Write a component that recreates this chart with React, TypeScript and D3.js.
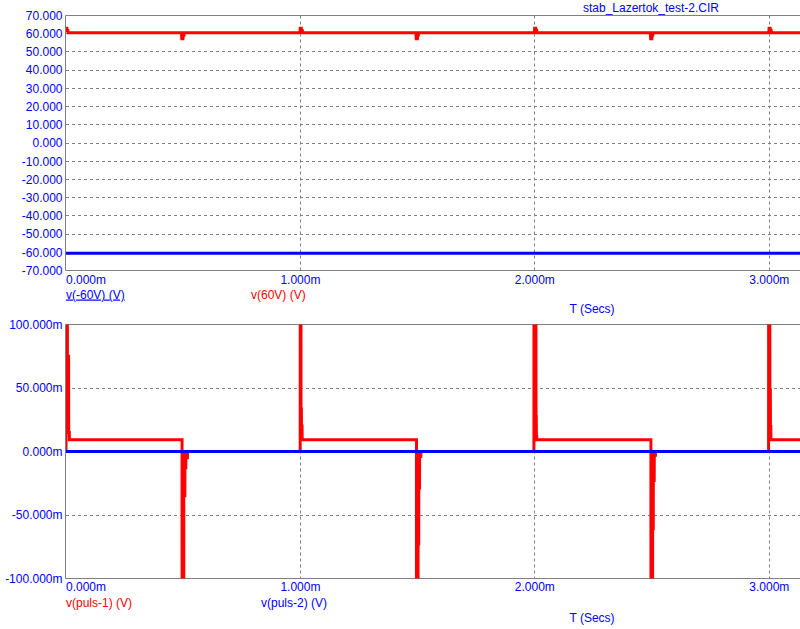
import React from "react";
import * as d3 from "d3";

const W = 800;
const H = 629;

// ---------- tick data ----------
const timeTicks = [0, 1, 2, 3];
const timeTickLabels = ["0.000m", "1.000m", "2.000m", "3.000m"];
const topYTicks = [70, 60, 50, 40, 30, 20, 10, 0, -10, -20, -30, -40, -50, -60, -70];
const topYTickLabels = [
  "70.000", "60.000", "50.000", "40.000", "30.000", "20.000", "10.000", "0.000",
  "-10.000", "-20.000", "-30.000", "-40.000", "-50.000", "-60.000", "-70.000",
];
const botYTicks = [100, 50, 0, -50, -100];
const botYTickLabels = ["100.000m", "50.000m", "0.000m", "-50.000m", "-100.000m"];

const title = "stab_Lazertok_test-2.CIR";
const xAxisTitle = "T (Secs)";

// ---------- series (time in ms) ----------
// v(60V) in V
const v60Series: [number, number][] = [
  [0, 63.0], [0.004, 63.0], [0.005, 61.8], [0.008, 61.8], [0.009, 60.5],
  [0.492, 60.5], [0.493, 59.2], [0.494, 57.3], [0.499, 57.3], [0.5, 59.2], [0.503, 59.2], [0.504, 60.5],
  [0.998, 60.5], [0.999, 63.0], [1.004, 63.0], [1.005, 61.8], [1.008, 61.8], [1.009, 60.5],
  [1.492, 60.5], [1.493, 59.2], [1.494, 57.3], [1.499, 57.3], [1.5, 59.2], [1.503, 59.2], [1.504, 60.5],
  [1.998, 60.5], [1.999, 63.0], [2.004, 63.0], [2.005, 61.8], [2.008, 61.8], [2.009, 60.5],
  [2.492, 60.5], [2.493, 59.2], [2.494, 57.3], [2.499, 57.3], [2.5, 59.2], [2.503, 59.2], [2.504, 60.5],
  [2.998, 60.5], [2.999, 63.0], [3.004, 63.0], [3.005, 61.8], [3.008, 61.8], [3.009, 60.5],
  [3.2, 60.5],
];
// v(-60V) in V
const vMinus60Series: [number, number][] = [[0, -60.5], [3.2, -60.5]];

// v(puls-1) in mV
const puls1Series: [number, number][] = [
  // pulse at 0
  [0, 0], [0.001, 300], [0.005, 300], [0.006, 75], [0.011, 75], [0.0115, 15], [0.014, 15], [0.0145, 9.2],
  [0.495, 9.2], [0.4955, -300], [0.502, -300], [0.5025, 0],
  [0.5065, 0], [0.507, -36], [0.5075, 0], [0.5105, 0], [0.511, -14], [0.5115, 0],
  [0.517, 0], [0.5175, -5], [0.518, -5], [0.5185, 0],
  // pulse at 1
  [0.999, 0], [0.9995, 300], [1.002, 300], [1.0025, 33.7], [1.004, 33.7], [1.0045, 20], [1.007, 20], [1.0075, 9.2],
  [1.495, 9.2], [1.4955, -300], [1.5015, -300], [1.502, 0],
  [1.504, 0], [1.5045, -74], [1.505, 0], [1.5075, 0], [1.508, -30], [1.5085, 0],
  [1.5125, 0], [1.513, -4], [1.5135, -4], [1.514, 0],
  // pulse at 2
  [1.996, 0], [1.9965, 300], [2.004, 300], [2.005, 27.6], [2.006, 27.6], [2.0065, 11.8], [2.008, 11.8], [2.0085, 9.2],
  [2.495, 9.2], [2.4955, -300], [2.502, -300], [2.5025, 0],
  [2.5045, 0], [2.505, -62], [2.5055, 0], [2.5085, 0], [2.509, -24], [2.5095, 0],
  [2.5135, 0], [2.514, -3], [2.5145, -3], [2.515, 0],
  // pulse at 3
  [2.997, 0], [2.9975, 300], [3.0015, 300], [3.0025, 48.6], [3.0045, 48.6], [3.005, 19.7], [3.0065, 19.7], [3.007, 9.2],
  [3.2, 9.2],
];
// v(puls-2) in mV
const puls2Series: [number, number][] = [[0, 0], [3.2, 0]];

const FONT = "'Liberation Sans', Arial, sans-serif";
const BLUE = "#0000ff";
const RED = "#ff0000";
const GRAY = "#808080";

const PL = 66;
const PR = 800;

const x = d3.scaleLinear().domain([0, 3]).range([66, 769.3]);
const yTop = d3.scaleLinear().domain([-70, 70]).range([270.5, 15.5]);
const yBot = d3.scaleLinear().domain([-100, 100]).range([578.5, 324.5]);

const crisp = (v: number) => Math.floor(v) + 0.5;

function Panel(props: {
  y: d3.ScaleLinear<number, number>;
  yTicks: number[];
  yLabels: string[];
  series: { data: [number, number][]; color: string }[];
  clipId: string;
  xLabelY: number;
  legend: { text: string; x: number; color: string; underline?: boolean }[];
  legendY: number;
  axisTitleY: number;
}) {
  const { y, yTicks, yLabels, series, clipId } = props;
  const [d0, d1] = y.domain();
  const top = y(d1);
  const bottom = y(d0);
  const line = d3
    .line<[number, number]>()
    .x((d) => x(d[0]))
    .y((d) => y(d[1]));
  return (
    <g>
      <defs>
        <clipPath id={clipId}>
          <rect x={PL} y={top} width={PR - PL} height={bottom - top} />
        </clipPath>
      </defs>
      {/* horizontal grid */}
      {yTicks
        .filter((t) => t !== d0 && t !== d1)
        .map((t) => (
          <line
            key={"h" + t}
            x1={PL}
            x2={PR}
            y1={crisp(y(t))}
            y2={crisp(y(t))}
            stroke={GRAY}
            strokeWidth={1}
            strokeDasharray="3,3"
          />
        ))}
      {/* vertical grid */}
      {timeTicks
        .filter((t) => t !== 0)
        .map((t) => (
          <line
            key={"v" + t}
            x1={crisp(x(t))}
            x2={crisp(x(t))}
            y1={top}
            y2={bottom}
            stroke={GRAY}
            strokeWidth={1}
            strokeDasharray="3,3"
          />
        ))}
      {/* frame */}
      <line x1={PL - 0.5} x2={PL - 0.5} y1={top} y2={bottom} stroke={GRAY} strokeWidth={1} />
      <line x1={PL - 0.5} x2={PR} y1={top} y2={top} stroke={GRAY} strokeWidth={1} />
      <line x1={PL - 0.5} x2={PR} y1={bottom} y2={bottom} stroke={GRAY} strokeWidth={1} />
      {/* series */}
      <g clipPath={`url(#${clipId})`}>
        {series.map((s, i) => (
          <path
            key={i}
            d={line(s.data) || ""}
            fill="none"
            stroke={s.color}
            strokeWidth={3}
            strokeLinejoin="miter"
          />
        ))}
      </g>
      {/* y labels */}
      {yTicks.map((t, i) => (
        <text
          key={"yl" + t}
          x={62.5}
          y={y(t) + 4.3}
          textAnchor="end"
          fontFamily={FONT}
          fontSize={12}
          fill={BLUE}
        >
          {yLabels[i]}
        </text>
      ))}
      {/* x labels */}
      {timeTicks.map((t, i) => (
        <text
          key={"xl" + t}
          x={i === 0 ? x(t) : x(t)}
          y={props.xLabelY}
          textAnchor={i === 0 ? "start" : "middle"}
          fontFamily={FONT}
          fontSize={12}
          fill={BLUE}
        >
          {timeTickLabels[i]}
        </text>
      ))}
      {props.legend.map((l) => (
        <text
          key={l.text}
          x={l.x}
          y={props.legendY}
          fontFamily={FONT}
          fontSize={12}
          fill={l.color}
          textDecoration={l.underline ? "underline" : undefined}
        >
          {l.text}
        </text>
      ))}
      <text
        x={592}
        y={props.axisTitleY}
        textAnchor="middle"
        fontFamily={FONT}
        fontSize={12}
        fill={BLUE}
      >
        {xAxisTitle}
      </text>
    </g>
  );
}

export default function App() {
  return (
    <>
      <style>{"body{margin:0;overflow:hidden}"}</style>
      <svg width={W} height={H} style={{ display: "block", background: "#ffffff" }}>
        <rect x={0} y={0} width={W} height={H} fill="#ffffff" />
        <text x={651} y={12} textAnchor="middle" fontFamily={FONT} fontSize={12} fill={BLUE}>
          {title}
        </text>
        <Panel
          y={yTop}
          yTicks={topYTicks}
          yLabels={topYTickLabels}
          series={[
            { data: vMinus60Series, color: BLUE },
            { data: v60Series, color: RED },
          ]}
          clipId="clipTop"
          xLabelY={283.5}
          legend={[
            { text: "v(-60V) (V)", x: 66, color: BLUE, underline: true },
            { text: "v(60V) (V)", x: 251, color: RED },
          ]}
          legendY={298.5}
          axisTitleY={312.5}
        />
        <Panel
          y={yBot}
          yTicks={botYTicks}
          yLabels={botYTickLabels}
          series={[
            { data: puls1Series, color: RED },
            { data: puls2Series, color: BLUE },
          ]}
          clipId="clipBot"
          xLabelY={590.5}
          legend={[
            { text: "v(puls-1) (V)", x: 66, color: RED },
            { text: "v(puls-2) (V)", x: 261, color: BLUE },
          ]}
          legendY={606.5}
          axisTitleY={621.5}
        />
      </svg>
    </>
  );
}
